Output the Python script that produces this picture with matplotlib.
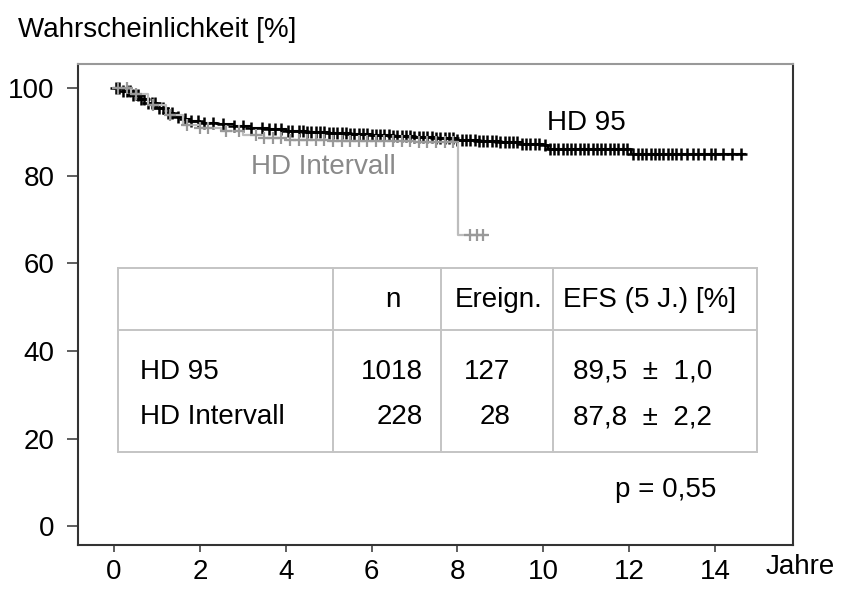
import numpy as np
import matplotlib
matplotlib.use('Agg')
import matplotlib.pyplot as plt
from matplotlib.lines import Line2D

plt.rcParams['font.family'] = ['Liberation Sans', 'DejaVu Sans']

# Kaplan-Meier step data (years, percent)
hd95_t = [0, 0.2, 0.4, 0.6, 0.8, 1.0, 1.2, 1.4, 1.6, 1.8, 2.0, 2.4, 2.8, 3.2,
          3.6, 4.0, 4.5, 5.0, 5.5, 6.0, 6.5, 7.0, 7.5, 8.0, 8.5, 9.0, 9.5,
          10.0, 10.1, 12.05, 14.7]
hd95_s = [100, 99.4, 98.5, 97.5, 96.5, 95.4, 94.4, 93.4, 92.9, 92.5, 92.1,
          91.7, 91.3, 90.9, 90.6, 90.3, 90.0, 89.7, 89.5, 89.2, 89.0, 88.8,
          88.5, 88.2, 87.9, 87.6, 87.3, 87.0, 86.0, 85.0, 85.0]
hd95_cens = [0.05, 0.12, 0.2, 0.3, 0.38, 0.45, 0.55, 0.62, 0.7, 0.8, 0.88,
             0.95, 1.05, 1.15, 1.25, 1.35, 1.5, 1.65, 1.8, 1.95, 2.1, 2.3,
             2.55, 2.8, 3.0, 3.2, 3.45, 3.6, 3.75, 3.9, 4.05, 4.15, 4.3, 4.4,
             4.5, 4.6, 4.7, 4.8, 4.9, 5.0, 5.1, 5.2, 5.3, 5.4, 5.5, 5.6, 5.7,
             5.8, 5.9, 6.0, 6.1, 6.2, 6.3, 6.4, 6.5, 6.6, 6.7, 6.8, 6.9, 7.0,
             7.1, 7.2, 7.3, 7.4, 7.5, 7.6, 7.7, 7.8, 7.9, 8.0, 8.1, 8.2, 8.3,
             8.4, 8.5, 8.6, 8.7, 8.8, 8.9, 9.0, 9.1, 9.2, 9.3, 9.4, 9.5, 9.6,
             9.7, 9.8, 9.9, 10.05, 10.15, 10.25, 10.35, 10.45, 10.55, 10.65,
             10.75, 10.85, 10.95, 11.05, 11.15, 11.25, 11.35, 11.45, 11.55,
             11.65, 11.75, 11.85, 11.95, 12.1, 12.2, 12.3, 12.4, 12.5, 12.6,
             12.7, 12.8, 12.9, 13.0, 13.1, 13.2, 13.35, 13.5, 13.6, 13.75,
             13.9, 14.0, 14.2, 14.4, 14.6]

int_t = [0, 0.4, 0.8, 1.2, 1.6, 2.0, 2.5, 3.0, 3.5, 4.0, 5.0, 6.0, 7.0,
         8.02, 8.7]
int_s = [100, 98.6, 96.2, 93.8, 91.6, 90.8, 90.1, 89.4, 88.6, 88.2, 88.0,
         87.9, 87.8, 66.4, 66.4]
int_cens = [0.1, 0.3, 0.5, 0.9, 1.3, 1.7, 2.0, 2.2, 2.6, 2.9, 3.3, 3.5, 3.7,
            3.9, 4.1, 4.3, 4.5, 4.7, 4.9, 5.1, 5.3, 5.5, 5.7, 5.9, 6.1, 6.3,
            6.5, 6.7, 6.9, 7.1, 7.3, 7.5, 7.7, 7.9, 8.3, 8.45, 8.6]

# table content
tab_header = ['n', 'Ereign.', 'EFS (5 J.) [%]']
tab_groups = ['HD 95', 'HD Intervall']
tab_n = ['1018', '228']
tab_events = ['127', '28']
tab_efs = ['89,5  \u00b1  1,0', '87,8  \u00b1  2,2']

W, H = 843, 598
fig = plt.figure(figsize=(W / 100, H / 100), dpi=100)
ax = fig.add_axes([78 / W, 1 - 545 / H, (793 - 78) / W, (545 - 64) / H])


def surv_at(t, s, x):
    idx = np.searchsorted(t, x, side='right') - 1
    return np.asarray(s)[idx]


# HD 95 (black)
ax.step(hd95_t, hd95_s, where='post', color='black', lw=1.5, zorder=3)
ax.plot(hd95_cens, surv_at(hd95_t, hd95_s, hd95_cens), ls='none', marker='+',
        ms=9, mew=1.8, color='black', zorder=3)

# HD Intervall (grey)
ax.step(int_t, int_s, where='post', color='#bdbdbd', lw=1.6, zorder=4)
ax.plot(int_cens, surv_at(int_t, int_s, int_cens), ls='none', marker='+',
        ms=9, mew=1.6, color='#999999', zorder=4)

ax.set_xlim(-0.84, 15.82)
ax.set_ylim(-4.3, 105.5)
ax.set_xticks(range(0, 15, 2))
ax.set_yticks(range(0, 101, 20))
ax.tick_params(axis='y', length=8, width=1.1, pad=9, labelsize=20,
               color='#333333')
ax.tick_params(axis='x', length=5, width=1.1, pad=5, labelsize=20,
               color='#333333')
for side in ['left', 'bottom', 'right']:
    ax.spines[side].set_color('#333333')
    ax.spines[side].set_linewidth(1.5)
ax.spines['top'].set_color('#999999')
ax.spines['top'].set_linewidth(1.5)

# curve labels
ax.text(11.0, 92.0, 'HD 95', fontsize=20, ha='center', va='center')
ax.text(4.87, 82.0, 'HD Intervall', fontsize=20, ha='center', va='center',
        color='#8a8a8a')


def fx(px):
    return px / W


def fy(py):
    return 1 - py / H


# axis labels
fig.text(fx(18), fy(30), 'Wahrscheinlichkeit [%]', fontsize=20,
         ha='left', va='center')
fig.text(fx(800), fy(567), 'Jahre', fontsize=20, ha='center', va='center')

# table frame
lc = '#c4c4c4'
top, mid, bot = 268, 330, 452
box = [(118, top, 757, top), (118, bot, 757, bot), (118, top, 118, bot),
       (757, top, 757, bot), (118, mid, 757, mid), (333, top, 333, bot),
       (441, top, 441, bot), (553, top, 553, bot)]
for x0, y0, x1, y1 in box:
    fig.add_artist(Line2D([fx(x0), fx(x1)], [fy(y0), fy(y1)], color=lc,
                          lw=1.4, transform=fig.transFigure))

fig.text(fx(393), fy(300), tab_header[0], fontsize=20, ha='center', va='center')
fig.text(fx(499), fy(300), tab_header[1], fontsize=20, ha='center', va='center')
fig.text(fx(650), fy(300), tab_header[2], fontsize=20, ha='center', va='center')
for i, ry in enumerate([372, 417]):
    fig.text(fx(140), fy(ry), tab_groups[i], fontsize=20, ha='left', va='center')
    fig.text(fx(423), fy(ry), tab_n[i], fontsize=20, ha='right', va='center')
    fig.text(fx(510), fy(ry), tab_events[i], fontsize=20, ha='right',
             va='center')
    fig.text(fx(573), fy(ry), tab_efs[i], fontsize=20, ha='left', va='center')

fig.text(fx(716), fy(490), 'p = 0,55', fontsize=20, ha='right', va='center')

fig.savefig('out.png', dpi=100)
